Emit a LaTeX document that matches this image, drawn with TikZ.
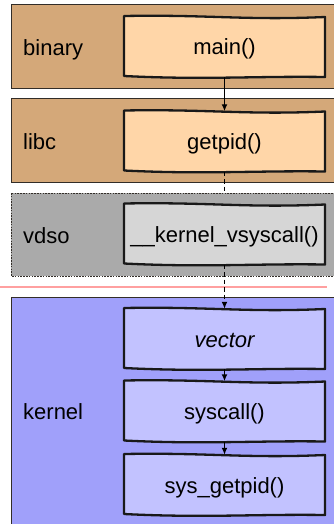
\documentclass[tikz,border=0pt]{standalone}
\usepackage{fontspec}
\setmainfont{Liberation Sans}
\usetikzlibrary{calc,arrows.meta}

\definecolor{binband}{RGB}{212,168,121}
\definecolor{binbox}{RGB}{255,214,168}
\definecolor{vdsoband}{RGB}{170,170,170}
\definecolor{vdsobox}{RGB}{214,214,214}
\definecolor{kernband}{RGB}{160,160,250}
\definecolor{kernbox}{RGB}{194,194,255}
\definecolor{sepline}{RGB}{255,160,160}
\definecolor{bandedge}{RGB}{50,45,40}

\tikzset{
  band/.style={draw=bandedge, line width=1pt},
  boxline/.style={draw=black!90, line width=2.3pt, line join=round},
  boxtext/.style={minimum width=201pt, minimum height=60pt, inner sep=0pt,
    text height=16pt, text depth=0pt, font=\fontsize{22}{24}\selectfont},
  lbl/.style={anchor=west, inner sep=0pt, text height=16pt, text depth=0pt,
    font=\fontsize{22}{24}\selectfont},
  flow/.style={line width=1.9pt, -{Latex[length=7pt,width=6pt]}},
  flowdash/.style={flow, dash pattern=on 4.5pt off 3pt},
}

% wavy-edged box: #1 name, #2 centre, #3 fill, #4 text
\newcommand\wavybox[4]{%
  \path[boxline, fill=#3]
    ($(#2)+(-100.5,-31)$) .. controls ($(#2)+(-15,-32.5)$) and ($(#2)+(20,-26.5)$) ..
    ($(#2)+(100.5,-30)$) -- ($(#2)+(100.5,30)$)
    .. controls ($(#2)+(30,29)$) and ($(#2)+(-20,33)$) ..
    ($(#2)+(-100.5,29)$) -- cycle;
  \node[boxtext] (#1) at (#2) {#4};
}

\begin{document}
\begin{tikzpicture}[x=1pt,y=-1pt]
\useasboundingbox (0,0) rectangle (334,524);
\clip (0,0) rectangle (334,524);

% binary and libc layers
\path[band, fill=binband] (11,5) rectangle (345,89);
\node[lbl] (lbinary) at (23,47.5) {binary};
\path[band, fill=binband] (11,99) rectangle (345,182);
\node[lbl] (llibc) at (23,141) {libc};
\wavybox{main}{224.5,47}{binbox}{main()}
\wavybox{getpid}{224.5,141.5}{binbox}{getpid()}
\draw[flow] (main.south) -- (getpid.north);
\draw[flowdash] (getpid.south) -- (224.5,204) coordinate (vtop);

% vdso layer
\path[band, fill=vdsoband, line width=0.8pt, dash pattern=on 1.6pt off 1.2pt] (11,193) rectangle (345,276);
\node[lbl] (lvdso) at (23,235) {vdso};
\wavybox{vsys}{224.5,234.5}{vdsobox}{\_\_kernel\_vsyscall()}

% user / kernel boundary
\draw[sepline, line width=1.5pt] (0,287) -- (327,287);

% kernel layer
\path[band, fill=kernband] (11,297) rectangle (345,540);
\node[lbl] (lkernel) at (23,411) {kernel};
\wavybox{vector}{224.5,339}{kernbox}{\itshape vector}
\wavybox{syscall}{224.5,411.5}{kernbox}{syscall()}
\wavybox{sysgetpid}{224.5,485}{kernbox}{sys\_getpid()}

\draw[flowdash] (vsys.south) -- (vector.north);
\draw[flow] (vector.south) -- (syscall.north);
\draw[flow] (syscall.south) -- (sysgetpid.north);
\end{tikzpicture}
\end{document}
